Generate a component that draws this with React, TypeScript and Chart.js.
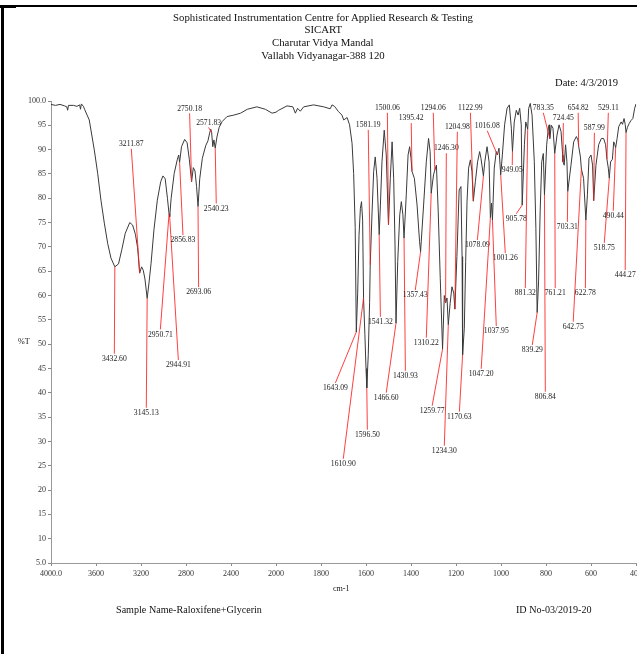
import React, { useEffect, useRef } from 'react';
import { Chart, registerables, LinearScale } from 'chart.js';

Chart.register(...registerables);

// ---------------- DATA ----------------
const waveNumbers: number[] = [
  4000, 3960, 3920, 3880, 3860, 3852, 3845, 3800, 3770, 3745, 3738, 3730, 3712, 3700, 3660, 3615, 3585, 3556, 3526, 3496,
  3467, 3432.6, 3400, 3370, 3340, 3300, 3275, 3250, 3230, 3211.87, 3195, 3180, 3165, 3145.13, 3128, 3111, 3085, 3055, 3025, 3005,
  2985, 2965, 2950.71, 2944.91, 2932, 2905, 2878, 2865, 2856.83, 2840, 2812, 2790, 2770, 2750.18, 2735, 2720, 2706, 2693.06, 2678, 2655,
  2625, 2605, 2590, 2580, 2571.83, 2562, 2552, 2540.23, 2525, 2505, 2478, 2435, 2375, 2315, 2255, 2170, 2095, 2035, 2000,
  1988, 1951, 1925, 1914, 1904, 1892, 1877, 1833, 1788, 1759, 1751, 1740, 1722, 1707, 1699, 1684, 1673, 1662, 1655, 1648,
  1643.09, 1637, 1631, 1625, 1620, 1615, 1610.9, 1605, 1600, 1596.5, 1590, 1584, 1581.19, 1573, 1566, 1559, 1551, 1541.32, 1536, 1529,
  1519, 1510, 1503, 1500.06, 1492, 1484, 1477, 1471, 1466.6, 1459, 1450, 1443, 1436, 1430.93, 1421, 1413, 1406, 1400, 1395.42, 1385,
  1373, 1362, 1357.43, 1344, 1332, 1322, 1315, 1310.22, 1300, 1294.06, 1287, 1279, 1270, 1259.77, 1252, 1246.3, 1240, 1234.3, 1226, 1218,
  1210, 1204.98, 1196, 1186, 1178, 1173, 1170.63, 1163, 1157, 1151, 1144, 1136, 1129, 1122.99, 1114, 1104, 1095, 1089, 1078.09, 1072,
  1062, 1053, 1047.2, 1042, 1037.95, 1030, 1021, 1016.08, 1009, 1001.26, 994, 984, 973, 963, 954, 949.05, 941, 932, 924, 917,
  910, 905.78, 896, 890, 881.32, 877, 870, 862, 852, 845, 839.29, 833, 826, 819, 812, 806.84, 797, 789, 786, 783.35,
  776, 769, 761.21, 751, 742, 733, 726, 724.45, 719, 713, 707, 703.31, 689, 677, 665, 658, 654.82, 647, 642.75, 633,
  622.78, 616, 609, 600, 593, 587.99, 578, 566, 554, 544, 535, 529.11, 523, 518.75, 513, 505, 499, 494, 490.44, 484,
  477, 466, 460, 453, 448, 444.27, 438, 430, 422, 414, 406, 400,
];

const transmittance: number[] = [
  99.3, 99.1, 99.3, 99.0, 98.8, 98.1, 99.1, 99.1, 98.9, 99.2, 98.3, 99.4, 98.9, 98.2, 96.1, 89.9, 85.1, 79.6, 74.9, 70.7,
  67.7, 65.9, 66.5, 69.5, 72.8, 75.0, 74.5, 72.6, 69.8, 64.6, 65.9, 65.2, 63.4, 59.4, 62.8, 66.5, 73.5, 79.6, 83.4, 84.6,
  84.0, 80.0, 76.8, 76.2, 80.0, 85.1, 87.9, 88.9, 87.4, 90.6, 92.1, 91.4, 87.9, 83.4, 86.3, 85.6, 82.4, 78.3, 84.0, 88.2,
  90.8, 91.8, 93.4, 94.2, 93.5, 90.6, 92.0, 90.3, 92.6, 94.6, 95.8, 96.8, 97.1, 97.5, 98.3, 98.8, 98.3, 97.5, 97.7,
  98.1, 99.0, 98.8, 97.5, 98.5, 97.9, 98.8, 99.2, 98.8, 98.4, 99.2, 98.9, 97.8, 97.1, 96.1, 96.6, 95.1, 91.3, 85.1, 74.0,
  52.5, 60.5, 72.4, 77.9, 79.3, 75.5, 59.5, 52.0, 45.0, 41.0, 47.8, 58.5, 66.3, 77.2, 85.5, 88.5, 84.1, 72.5, 78.6, 87.5,
  94.0, 88.9, 78.6, 74.5, 84.1, 91.6, 84.1, 70.4, 54.3, 67.0, 76.6, 79.3, 76.6, 71.8, 80.7, 88.9, 90.6, 88.2, 85.5, 84.1,
  78.6, 71.1, 69.0, 78.6, 87.5, 92.3, 89.6, 81.0, 84.8, 85.8, 86.8, 77.2, 63.5, 49.0, 60.0, 58.5, 59.5, 54.0, 58.4, 61.8,
  60.5, 57.2, 68.0, 81.7, 82.4, 68.0, 47.8, 53.3, 67.0, 79.3, 86.2, 87.9, 85.5, 79.4, 83.4, 87.5, 89.6, 88.2, 84.6, 87.5,
  90.6, 87.5, 76.0, 79.0, 75.5, 86.2, 89.6, 88.9, 90.3, 84.8, 88.9, 95.1, 98.5, 99.2, 94.4, 89.6, 95.7, 98.1, 97.1, 98.5,
  95.1, 78.6, 91.0, 95.7, 94.2, 98.5, 99.5, 97.1, 87.5, 73.8, 56.5, 62.8, 77.2, 87.5, 89.2, 80.7, 91.0, 94.7, 95.1, 92.3,
  95.0, 94.4, 89.2, 93.0, 95.1, 93.7, 88.9, 87.5, 86.8, 91.0, 87.5, 81.4, 86.8, 91.6, 92.7, 92.0, 90.7, 88.5, 86.0, 84.1,
  75.5, 80.7, 88.2, 88.9, 86.8, 79.5, 86.8, 91.0, 92.3, 92.3, 91.0, 88.0, 86.2, 84.1, 87.5, 88.0, 91.6, 91.0, 90.4, 92.3,
  94.7, 95.7, 95.2, 96.4, 95.2, 93.5, 94.6, 95.4, 96.0, 96.4, 98.5, 99.4,
];

// x tick values (wavenumber, cm-1); the scale is compressed above 2000
const xTickValues: number[] = [4000, 3600, 3200, 2800, 2400, 2000, 1800, 1600, 1400, 1200, 1000, 800, 600, 400];
const yMin = 5;
const yMax = 100;
const yStep = 5;

// labelled peaks (wavenumber) and where their labels sit (wavenumber, %T)
const peakWaves: number[] = [
  3432.6, 3211.87, 3145.13, 2950.71, 2944.91, 2856.83, 2750.18, 2693.06, 2571.83, 2540.23,
  1643.09, 1610.9, 1596.5, 1581.19, 1541.32, 1500.06, 1466.6, 1430.93, 1395.42, 1357.43,
  1310.22, 1294.06, 1259.77, 1246.3, 1234.3, 1204.98, 1170.63, 1122.99, 1078.09, 1016.08,
  1001.26, 1037.95, 1047.2, 949.05, 905.78, 881.32, 839.29, 806.84, 783.35, 761.21,
  724.45, 703.31, 654.82, 642.75, 622.78, 587.99, 529.11, 518.75, 490.44, 444.27,
];
const labelWaves: number[] = [
  3437, 3286, 3153, 3028, 2868, 2827, 2768, 2688, 2599, 2531,
  1736, 1701, 1594, 1590, 1536, 1505, 1510, 1425, 1399, 1381,
  1332, 1301, 1306, 1243, 1252, 1194, 1185, 1136, 1105, 1061,
  981, 1021, 1088, 950, 932, 892, 861, 803, 812, 759,
  723, 705, 657, 679, 625, 585, 523, 541, 501, 448,
];
const labelTs: number[] = [
  47.0, 91.2, 35.9, 52.0, 45.7, 71.4, 98.5, 60.7, 95.6, 77.9,
  41.0, 25.4, 31.4, 95.1, 54.6, 98.6, 39.0, 43.5, 96.5, 60.1,
  50.3, 98.6, 36.3, 90.3, 28.1, 94.7, 35.1, 98.6, 70.4, 94.9,
  67.7, 52.7, 43.9, 85.8, 75.8, 60.5, 48.8, 39.2, 98.6, 60.5,
  96.5, 74.1, 98.6, 53.6, 60.5, 94.5, 98.6, 69.8, 76.4, 64.2,
];

// ---------------- SCALE ----------------
const BREAK = 2000;
const HIGH_STEP = 400;
const LOW_STEP = 200;
const N_HIGH = (4000 - BREAK) / HIGH_STEP; // 5
const N_TOTAL = N_HIGH + (BREAK - 400) / LOW_STEP; // 13

function waveToDecimal(w: number): number {
  const u = w >= BREAK ? (4000 - w) / HIGH_STEP : N_HIGH + (BREAK - w) / LOW_STEP;
  return u / N_TOTAL;
}
function decimalToWave(d: number): number {
  const u = d * N_TOTAL;
  return u <= N_HIGH ? 4000 - u * HIGH_STEP : BREAK - (u - N_HIGH) * LOW_STEP;
}

class WaveScale extends LinearScale {
  static id = 'wave';
  buildTicks() {
    return xTickValues.map((v) => ({ value: v }));
  }
  getPixelForValue(value: number) {
    return this.getPixelForDecimal(waveToDecimal(value));
  }
  getValueForPixel(pixel: number) {
    return decimalToWave(this.getDecimalForPixel(pixel));
  }
}
Chart.register(WaveScale as any);

function interpT(w: number): number {
  for (let i = 0; i < waveNumbers.length - 1; i++) {
    const a = waveNumbers[i];
    const b = waveNumbers[i + 1];
    if (w <= a && w >= b) {
      const t = (a - w) / (a - b);
      return transmittance[i] + t * (transmittance[i + 1] - transmittance[i]);
    }
  }
  return transmittance[transmittance.length - 1];
}

const SERIF = '"Liberation Serif", "Times New Roman", serif';

const peakLabelPlugin = {
  id: 'peakLabels',
  afterDatasetsDraw(chart: any) {
    const { ctx } = chart;
    const x = chart.scales.x;
    const y = chart.scales.y;
    ctx.save();
    ctx.font = `8.5px ${SERIF}`;
    ctx.textAlign = 'center';
    ctx.textBaseline = 'middle';
    peakWaves.forEach((w, i) => {
      const px = x.getPixelForValue(w);
      const py = y.getPixelForValue(interpT(w));
      const lx = x.getPixelForValue(labelWaves[i]);
      const ly = y.getPixelForValue(labelTs[i]);
      const below = ly > py;
      const sy = below ? ly - 5 : ly + 5;
      ctx.strokeStyle = 'rgba(255,30,30,0.85)';
      ctx.lineWidth = 1;
      ctx.beginPath();
      ctx.moveTo(lx, sy);
      ctx.lineTo(px, py);
      ctx.stroke();
      ctx.fillStyle = '#222';
      ctx.save();
      ctx.translate(lx, ly);
      ctx.scale(0.9, 1);
      ctx.fillText(w.toFixed(2), 0, 0);
      ctx.restore();
    });
    ctx.restore();
  },
};

function Txt(props: { text: string; x: number; y: number; size?: number; align?: 'left' | 'center'; sx?: number }) {
  const { text, x, y, size = 11, align = 'left', sx = 0.9 } = props;
  const lh = size * 1.2;
  if (align === 'center') {
    return (
      <div style={{ position: 'absolute', left: x - 300, width: 600, top: y - lh / 2, textAlign: 'center', lineHeight: `${lh}px`, fontSize: size, whiteSpace: 'nowrap' }}>
        <span style={{ display: 'inline-block', transform: `scaleX(${sx})`, transformOrigin: 'center' }}>{text}</span>
      </div>
    );
  }
  return (
    <div style={{ position: 'absolute', left: x, top: y - lh / 2, lineHeight: `${lh}px`, fontSize: size, whiteSpace: 'nowrap', transform: `scaleX(${sx})`, transformOrigin: 'left center' }}>
      {text}
    </div>
  );
}

export default function App() {
  const canvasRef = useRef<HTMLCanvasElement | null>(null);

  useEffect(() => {
    if (!canvasRef.current) return;
    const tickFont = { family: SERIF, size: 8 };
    const chart = new Chart(canvasRef.current, {
      type: 'line',
      data: {
        datasets: [
          {
            data: waveNumbers.map((w, i) => ({ x: w, y: transmittance[i] })),
            borderColor: '#3a3a3a',
            borderWidth: 1,
            pointRadius: 0,
            tension: 0,
            fill: false,
          },
        ],
      },
      options: {
        animation: false,
        responsive: false,
        maintainAspectRatio: false,
        layout: { padding: { top: 101, right: 1, bottom: 0, left: 0 } },
        plugins: { legend: { display: false }, tooltip: { enabled: false }, title: { display: false } },
        scales: {
          x: {
            type: 'wave' as any,
            min: 400,
            max: 4000,
            grid: { display: true, drawOnChartArea: false, drawTicks: true, tickLength: 3, color: '#999', tickColor: '#888' },
            border: { display: true, color: '#999', width: 1 },
            ticks: {
              autoSkip: false,
              maxRotation: 0,
              minRotation: 0,
              padding: 3,
              color: '#333',
              font: tickFont,
              callback: (v: any) => (Number(v) === 4000 ? '4000.0' : String(v)),
            },
            afterFit: (s: any) => {
              s.height = 91;
              s.paddingLeft = 0;
              s.paddingRight = 0;
            },
          } as any,
          y: {
            min: yMin,
            max: yMax,
            grid: { display: true, drawOnChartArea: false, drawTicks: true, tickLength: 3, color: '#999', tickColor: '#888' },
            border: { display: true, color: '#999', width: 1 },
            ticks: {
              stepSize: yStep,
              padding: 2,
              color: '#333',
              font: tickFont,
              callback: (v: any) => (Number(v) === 100 ? '100.0' : Number(v) === 5 ? '5.0' : String(v)),
            },
            afterFit: (s: any) => {
              s.width = 51;
              s.paddingTop = 0;
              s.paddingBottom = 0;
            },
          },
        },
      },
      plugins: [peakLabelPlugin],
    });
    return () => chart.destroy();
  }, []);

  return (
    <div style={{ position: 'absolute', left: 0, top: 0, width: 637, height: 654, background: '#fff', fontFamily: SERIF, color: '#111', overflow: 'hidden' }}>
      <canvas ref={canvasRef} width={637} height={654} style={{ position: 'absolute', left: 0, top: 0, width: 637, height: 654 }} />
      {/* frame */}
      <div style={{ position: 'absolute', left: 0, top: 5, width: 637, height: 1.5, background: '#000' }} />
      <div style={{ position: 'absolute', left: 0, top: 5, width: 16, height: 3, background: '#000' }} />
      <div style={{ position: 'absolute', left: 1, top: 5, width: 3, height: 649, background: '#000' }} />
      <Txt text="Sophisticated Instrumentation Centre for Applied Research & Testing" x={323} y={18} align="center" sx={0.98} />
      <Txt text="SICART" x={323} y={30} align="center" sx={0.98} />
      <Txt text="Charutar Vidya Mandal" x={323} y={43} align="center" sx={0.98} />
      <Txt text="Vallabh Vidyanagar-388 120" x={323} y={56} align="center" sx={0.98} />
      <Txt text="Date: 4/3/2019" x={555} y={83} sx={0.96} />
      <Txt text="%T" x={18} y={341} size={9} />
      <Txt text="cm-1" x={341} y={588} size={9} align="center" />
      <Txt text="Sample Name-Raloxifene+Glycerin" x={116} y={610} sx={0.92} />
      <Txt text="ID No-03/2019-20" x={516} y={610} sx={0.92} />
    </div>
  );
}
